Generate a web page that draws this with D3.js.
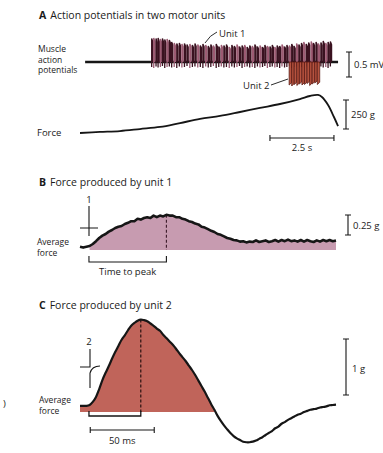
<!DOCTYPE html>
<html>
<head>
<meta charset="utf-8">
<script src="https://cdn.jsdelivr.net/npm/d3@7"></script>
<style>
  body { margin: 0; background: #fff; }
  text { font-family: "Open Sans", "DejaVu Sans", sans-serif; fill: #1a1a1a; }
</style>
</head>
<body>
<div id="chart"></div>
<script>
// ---- panel A: spike trains (time in s, amplitude in mV) ----
const unit1Times = [2.80, 2.88, 2.97, 3.05, 3.14, 3.22, 3.31, 3.40, 3.49, 3.58, 3.68, 3.78, 3.88, 3.98, 4.08, 4.18, 4.29, 4.39, 4.49, 4.60,
  4.70, 4.80, 4.91, 5.01, 5.11, 5.21, 5.32, 5.42, 5.52, 5.62, 5.72, 5.83, 5.93, 6.03, 6.13, 6.23, 6.33, 6.43, 6.53, 6.63,
  6.73, 6.83, 6.93, 7.03, 7.13, 7.22, 7.32, 7.42, 7.51, 7.61, 7.70, 7.80, 7.89, 7.99, 8.08, 8.18, 8.27, 8.36, 8.46, 8.55,
  8.65, 8.74, 8.84, 8.93, 9.03, 9.12, 9.22, 9.31, 9.41, 9.50, 9.60, 9.69, 9.78];
const unit1Amps = [0.47, 0.48, 0.47, 0.48, 0.46, 0.47, 0.45, 0.46, 0.44, 0.40, 0.38, 0.37, 0.38, 0.36, 0.37, 0.35, 0.36, 0.34, 0.37, 0.35,
  0.33, 0.36, 0.34, 0.32, 0.35, 0.33, 0.36, 0.31, 0.34, 0.33, 0.35, 0.30, 0.34, 0.32, 0.35, 0.31, 0.33, 0.34, 0.30, 0.33,
  0.32, 0.35, 0.31, 0.33, 0.30, 0.34, 0.32, 0.31, 0.34, 0.30, 0.33, 0.32, 0.35, 0.31, 0.34, 0.33, 0.36, 0.32, 0.37, 0.35,
  0.38, 0.40, 0.36, 0.39, 0.41, 0.38, 0.40, 0.37, 0.39, 0.42, 0.38, 0.40, 0.41];
const unit1Dips = [-0.10, -0.12, -0.09, -0.11, -0.10, -0.08, -0.12, -0.10, -0.09, -0.11];
const unit2Times = [8.17, 8.27, 8.37, 8.47, 8.57, 8.67, 8.77, 8.87, 8.97, 9.07, 9.17, 9.27];
const unit2Amps = [-0.46, -0.48, -0.45, -0.47, -0.44, -0.46, -0.45, -0.43, -0.47, -0.44, -0.42, -0.45];

// ---- panel A: whole muscle force (s, g) ----
const forceTimes = [0, 0.78, 1.56, 2.34, 3.13, 3.91, 4.69, 5.47, 6.25, 7.03, 7.81, 8.59, 8.98, 9.30, 9.45, 9.69, 9.92, 10.08];
const forceGrams = [0, 9, 17, 34, 52, 86, 121, 147, 181, 216, 250, 293, 319, 328, 310, 241, 138, 60];

// ---- panels B and C: averaged force, one sample every 2.5 ms (g) ----
const sampleMs = 2.5;
const unit1Force = [0.04, 0.03, 0.04, 0.05, 0.075, 0.11, 0.15, 0.18, 0.20, 0.23, 0.25, 0.275, 0.29, 0.30, 0.325, 0.34, 0.36, 0.36, 0.39, 0.38,
  0.40, 0.41, 0.40, 0.43, 0.41, 0.43, 0.42, 0.44, 0.43, 0.43, 0.41, 0.41, 0.39, 0.38, 0.36, 0.35, 0.33, 0.32, 0.29, 0.28,
  0.26, 0.24, 0.225, 0.20, 0.19, 0.17, 0.15, 0.14, 0.125, 0.12, 0.105, 0.11, 0.095, 0.105, 0.10, 0.12, 0.10, 0.11, 0.12, 0.10,
  0.11, 0.125, 0.105, 0.125, 0.11, 0.13, 0.11, 0.12, 0.105, 0.125, 0.105, 0.125, 0.11, 0.10, 0.12, 0.105, 0.125, 0.11, 0.125, 0.11,
  0.12];
const unit2Force = [0.11, 0.11, 0.11, 0.125, 0.18, 0.27, 0.41, 0.57, 0.70, 0.82, 0.95, 1.07, 1.18, 1.29, 1.37, 1.46, 1.54, 1.59, 1.63, 1.65,
  1.64, 1.62, 1.58, 1.54, 1.49, 1.45, 1.38, 1.32, 1.26, 1.20, 1.13, 1.05, 0.98, 0.91, 0.83, 0.75, 0.66, 0.56, 0.46, 0.36,
  0.25, 0.14, 0.04, -0.07, -0.16, -0.24, -0.31, -0.375, -0.43, -0.47, -0.50, -0.53, -0.54, -0.54, -0.53, -0.51, -0.48, -0.45, -0.41, -0.375,
  -0.34, -0.29, -0.26, -0.21, -0.18, -0.14, -0.11, -0.08, -0.05, -0.03, 0, 0.02, 0.04, 0.05, 0.06, 0.08, 0.09, 0.10, 0.12, 0.125,
  0.13];
const peak1Ms = 67.5;
const peak2Ms = 47.5;
const onsetMs = 7;

const svg = d3.select('#chart').append('svg')
  .attr('width', 383).attr('height', 453)
  .attr('stroke-linecap', 'butt');

// scales
const xA = d3.scaleLinear().domain([0, 10]).range([80, 336]);
const yAP = d3.scaleLinear().domain([0, 0.5]).range([62, 37]);
const yF = d3.scaleLinear().domain([0, 250]).range([133, 104]);
const xBC = d3.scaleLinear().domain([0, 200]).range([80, 336]);
const yB = d3.scaleLinear().domain([0, 0.25]).range([250, 230]);
const yC = d3.scaleLinear().domain([0, 1]).range([412, 356]);

const ink = '#161616';
const titleSize = 10.5;
const labelSize = 9.5;
const stackSize = 8.5;

function label(x, y, str, size, anchor) {
  return svg.append('text').attr('x', x).attr('y', y)
    .attr('font-size', size).attr('text-anchor', anchor || 'start').text(str);
}
function lines(x, y, strs, size, step) {
  const t = svg.append('text').attr('x', x).attr('y', y).attr('font-size', size);
  strs.forEach((s, i) => t.append('tspan').attr('x', x).attr('dy', i ? step : 0).text(s));
  return t;
}
function title(y, letter, str) {
  const t = svg.append('text').attr('x', 39).attr('y', y).attr('font-size', titleSize);
  t.append('tspan').attr('font-weight', 'bold').text(letter);
  t.append('tspan').attr('dx', 4).text(str);
}
function vbar(x, y0, y1) {
  svg.append('path').attr('fill', 'none').attr('stroke', ink).attr('stroke-width', 1.1)
    .attr('d', `M${x},${y0}V${y1}M${x - 3},${y0}H${x + 3}M${x - 3},${y1}H${x + 3}`);
}
function hbar(x0, x1, y) {
  svg.append('path').attr('fill', 'none').attr('stroke', ink).attr('stroke-width', 1.1)
    .attr('d', `M${x0},${y}H${x1}M${x0},${y - 3}V${y + 3}M${x1},${y - 3}V${y + 3}`);
}

// ================= A =================
title(19, 'A', 'Action potentials in two motor units');
lines(38, 52, ['Muscle', 'action', 'potentials'], stackSize, 10.5);

// baseline
svg.append('line').attr('x1', xA(0.2)).attr('x2', xA(10.08))
  .attr('y1', yAP(0)).attr('y2', yAP(0)).attr('stroke', ink).attr('stroke-width', 2.4);

// unit 1 spikes
const u1 = unit1Times.map((t, i) => ({ t, a: unit1Amps[i], d: unit1Dips[i % unit1Dips.length], i }));
svg.append('g').selectAll('path').data(u1).join('path')
  .attr('fill', 'none')
  .attr('stroke', d => d.i % 3 === 1 ? '#9c5a72' : '#3a1220')
  .attr('stroke-width', 1.3)
  .attr('d', d => `M${xA(d.t)},${yAP(d.d)}L${xA(d.t)},${yAP(d.a)}L${xA(d.t) + 1.2},${yAP(d.a * 0.85)}L${xA(d.t) + 1.2},${yAP(0)}`);

// unit 2 spikes
const u2 = unit2Times.map((t, i) => ({ t, a: unit2Amps[i], i }));
svg.append('g').selectAll('path').data(u2).join('path')
  .attr('fill', '#b7533f')
  .attr('stroke', '#5a1a14')
  .attr('stroke-width', 0.8)
  .attr('d', d => `M${xA(d.t)},${yAP(0)}L${xA(d.t)},${yAP(d.a)}L${xA(d.t) + 2.4},${yAP(d.a * 0.9)}L${xA(d.t) + 2.4},${yAP(0)}Z`);

// unit labels
label(219, 37, 'Unit 1', labelSize);
svg.append('path').attr('fill', 'none').attr('stroke', ink).attr('stroke-width', 0.9)
  .attr('d', 'M205,43Q210,35 217,32');
label(243, 89, 'Unit 2', labelSize);
svg.append('line').attr('x1', 271).attr('y1', 85).attr('x2', 288).attr('y2', 79)
  .attr('stroke', ink).attr('stroke-width', 0.9);

// 0.5 mV scale
vbar(349, yAP(0.2), yAP(-0.3));
label(354, 68, '0.5 mV', labelSize);

// force
label(37, 136, 'Force', labelSize);
const forceLine = d3.line().curve(d3.curveCatmullRom)
  .x((d, i) => xA(forceTimes[i])).y(d => yF(d));
svg.append('path').attr('fill', 'none').attr('stroke', ink).attr('stroke-width', 1.8)
  .attr('d', forceLine(forceGrams));
vbar(346, 100, 100 + (yF(0) - yF(250)));
label(351, 118, '250 g', labelSize);
hbar(xA(7.42), xA(9.92), 138);
label(302, 151, '2.5 s', labelSize, 'middle');

// ================= B =================
title(186, 'B', 'Force produced by unit 1');
lines(37, 245, ['Average', 'force'], stackSize, 11);

const tB = (d, i) => xBC(i * sampleMs);
svg.append('path')
  .attr('fill', '#c79bb0')
  .attr('d', d3.area().x(tB).y0(yB(0)).y1(d => yB(Math.max(d, 0)))
    .defined((d, i) => i * sampleMs >= onsetMs)(unit1Force));
svg.append('line').attr('x1', xBC(peak1Ms)).attr('x2', xBC(peak1Ms))
  .attr('y1', yB(unit1Force[peak1Ms / sampleMs])).attr('y2', yB(0))
  .attr('stroke', '#3a1a28').attr('stroke-width', 1.1).attr('stroke-dasharray', '3,2');
svg.append('path').attr('fill', 'none').attr('stroke', ink).attr('stroke-width', 2.6)
  .attr('stroke-linejoin', 'round')
  .attr('d', d3.line().x(tB).y(d => yB(d))(unit1Force));

// stimulus marker 1
label(89, 203, '1', labelSize, 'middle');
svg.append('path').attr('fill', 'none').attr('stroke', ink).attr('stroke-width', 1.1)
  .attr('d', 'M89,206V236M80,228H98');

// time to peak bracket
svg.append('path').attr('fill', 'none').attr('stroke', ink).attr('stroke-width', 1.1)
  .attr('d', `M${xBC(onsetMs)},256V262H${xBC(peak1Ms)}V256`);
label((xBC(onsetMs) + xBC(peak1Ms)) / 2, 275, 'Time to peak', labelSize, 'middle');

vbar(348, 215, 215 + (yB(0) - yB(0.25)));
label(353, 229, '0.25 g', labelSize);

// ================= C =================
title(309, 'C', 'Force produced by unit 2');
lines(39, 403, ['Average', 'force'], stackSize, 11);
label(3, 407, ')', labelSize);

svg.append('path')
  .attr('fill', '#c0645a')
  .attr('d', d3.area().x(tB).y0(yC(0)).y1(d => yC(Math.max(d, 0)))
    .defined((d, i) => i < 43)(unit2Force));
svg.append('line').attr('x1', xBC(peak2Ms)).attr('x2', xBC(peak2Ms))
  .attr('y1', yC(unit2Force[peak2Ms / sampleMs])).attr('y2', yC(0))
  .attr('stroke', '#1a0a0a').attr('stroke-width', 1.1).attr('stroke-dasharray', '3,2');
svg.append('path').attr('fill', 'none').attr('stroke', ink).attr('stroke-width', 2.2)
  .attr('stroke-linejoin', 'round')
  .attr('d', d3.line().curve(d3.curveCatmullRom).x(tB).y(d => yC(d))(unit2Force));

// stimulus marker 2
label(89, 345, '2', labelSize, 'middle');
svg.append('path').attr('fill', 'none').attr('stroke', ink).attr('stroke-width', 1.1)
  .attr('d', 'M90,349V367H80M90,373V388M90,373Q92,366 100,366');

// onset to peak bracket
svg.append('path').attr('fill', 'none').attr('stroke', ink).attr('stroke-width', 1.3)
  .attr('d', `M${xBC(onsetMs)},411V416H${xBC(peak2Ms)}V411`);
hbar(xBC(8), xBC(58), 430);
label((xBC(8) + xBC(58)) / 2, 444, '50 ms', labelSize, 'middle');

vbar(346, 339, 339 + (yC(0) - yC(1)));
label(352, 372, '1 g', labelSize);
</script>
</body>
</html>
